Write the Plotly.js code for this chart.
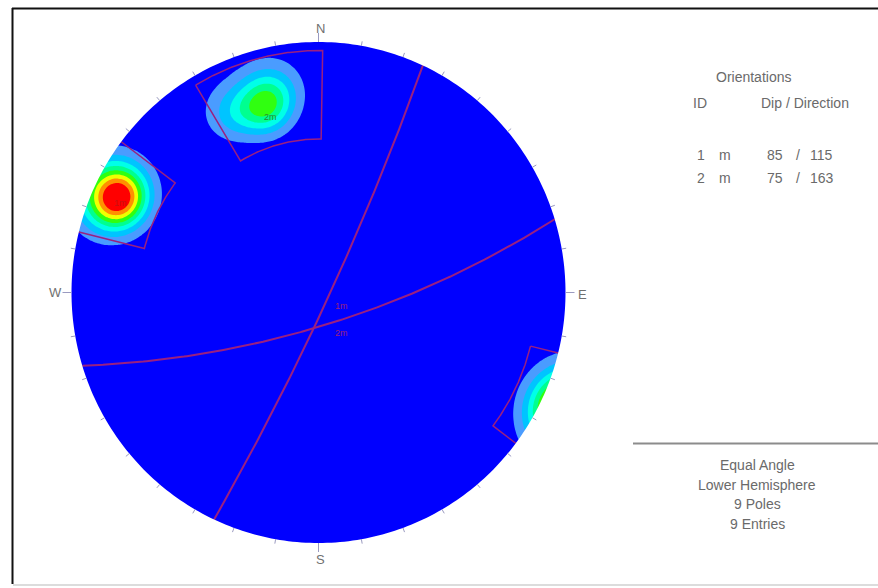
<!DOCTYPE html>
<html>
<head>
<meta charset="utf-8">
<script src="https://cdn.plot.ly/plotly-3.0.1.min.js"></script>
<style>
  html, body { margin: 0; padding: 0; background: #ffffff; }
  #chart { width: 878px; height: 588px; }
</style>
</head>
<body>
<div id="chart"></div>
<script>
// ---- Pole data (trend / plunge in degrees, lower hemisphere) ----
const poleTrend  = [293, 295, 297, 294, 296, 344, 343, 347, 334];
const polePlunge = [5, 6, 7, 7, 5, 14, 16, 11, 13];

// ---- Mean planes ----
const planeIds     = ['1', '2'];
const planeTypes   = ['m', 'm'];
const planeDips    = [85, 75];
const planeDipDirs = [115, 163];

// ---- Set windows (trend range, plunge range; negative plunge wraps to the opposite side) ----
const windowTrendMin  = [284, 329];
const windowTrendMax  = [307, 361];
const windowPlungeMin = [-7, 2];
const windowPlungeMax = [18, 27];

// ---- Text ----
const compassLabels = ['N', 'E', 'S', 'W'];
const legendTitle   = 'Orientations';
const legendHeads   = ['ID', 'Dip / Direction'];
const summaryLines  = ['Equal Angle', 'Lower Hemisphere', '9 Poles', '9 Entries'];

// ---- Density contour levels and fill colours ----
const densityStart = 0.45;
const densityStep  = 0.5;
const densityLevels = 8;
const bandColors = ['#0000ff', '#4a9cff', '#00c4ff', '#00ffe8', '#00ff90',
                    '#30ff10', '#f0ff00', '#ff9000', '#ff0000'];
const fisherK = 105;

// ---- Geometry of the figure ----
const W = 878, H = 588;
const CX = 318.5, CY = 292.5, RX = 247, RY = 250.5;
const D2R = Math.PI / 180;
const planeColor = '#9a2080';

function vecFromTP(t, p) {
  return [Math.cos(p * D2R) * Math.sin(t * D2R),
          Math.cos(p * D2R) * Math.cos(t * D2R),
          Math.sin(p * D2R)];
}
// equal-angle projection of a lower-hemisphere vector (E, N, Down)
function project(v) {
  let [e, n, d] = v;
  if (d < 0) { e = -e; n = -n; d = -d; }
  return [e / (1 + d), n / (1 + d)];
}
function projTP(t, p) { return project(vecFromTP(t, p)); }

// ---- Density grid (Fisher kernel, axial) ----
const poleVecs = poleTrend.map((t, i) => vecFromTP(t, polePlunge[i]));
const gx = [], gy = [];
for (let i = 0; i <= 224; i++) gx.push(-1.12 + i * 0.01);
for (let i = 0; i <= 224; i++) gy.push(-1.12 + i * 0.01);
const gz = gy.map(y => gx.map(x => {
  const r2 = x * x + y * y;
  const e = 2 * x / (1 + r2), n = 2 * y / (1 + r2), d = (1 - r2) / (1 + r2);
  let s = 0;
  for (const pv of poleVecs) {
    const c = Math.abs(e * pv[0] + n * pv[1] + d * pv[2]);
    s += Math.exp(fisherK * (c - 1));
  }
  return s;
}));

const colorscale = bandColors.map((c, i) => [i / densityLevels, c]);

const traces = [];
traces.push({
  type: 'contour', x: gx, y: gy, z: gz,
  autocontour: false,
  contours: { start: densityStart, end: densityStart + densityStep * (densityLevels - 1),
              size: densityStep, coloring: 'fill', showlines: false },
  line: { width: 0, smoothing: 1 },
  colorscale: colorscale, showscale: false, hoverinfo: 'skip'
});

// ---- Great circles of the mean planes ----
planeDips.forEach((dip, k) => {
  const dd = planeDipDirs[k], s = dd - 90;
  const sv = [Math.sin(s * D2R), Math.cos(s * D2R), 0];
  const dv = vecFromTP(dd, dip);
  const xs = [], ys = [];
  for (let a = 0; a <= 180; a += 1) {
    const c = Math.cos(a * D2R), si = Math.sin(a * D2R);
    const v = [c * sv[0] + si * dv[0], c * sv[1] + si * dv[1], c * sv[2] + si * dv[2]];
    const p = project(v);
    xs.push(p[0]); ys.push(p[1]);
  }
  traces.push({ type: 'scatter', mode: 'lines', x: xs, y: ys,
    line: { color: planeColor, width: 2 }, hoverinfo: 'skip' });
});

// ---- Set windows ----
function windowPath(t0, t1, p0, p1) {
  const pts = [];
  const n = 80;
  for (let i = 0; i <= n; i++) pts.push([t0 + (t1 - t0) * i / n, p0]);
  for (let i = 0; i <= n; i++) pts.push([t1, p0 + (p1 - p0) * i / n]);
  for (let i = 0; i <= n; i++) pts.push([t1 - (t1 - t0) * i / n, p1]);
  for (let i = 0; i <= n; i++) pts.push([t0, p1 - (p1 - p0) * i / n]);
  const xs = [], ys = [];
  let prev = null;
  for (const [t, p] of pts) {
    if (prev && ((prev[1] < 0) !== (p < 0))) {
      const f = (0 - prev[1]) / (p - prev[1]);
      const tc = prev[0] + f * (t - prev[0]);
      const a = projTP(tc, prev[1] < 0 ? -1e-9 : 1e-9);
      const b = projTP(tc, p < 0 ? -1e-9 : 1e-9);
      xs.push(a[0], null, b[0]); ys.push(a[1], null, b[1]);
    }
    const q = projTP(t, p);
    xs.push(q[0]); ys.push(q[1]);
    prev = [t, p];
  }
  return [xs, ys];
}
windowTrendMin.forEach((t0, k) => {
  const [xs, ys] = windowPath(t0, windowTrendMax[k], windowPlungeMin[k], windowPlungeMax[k]);
  traces.push({ type: 'scatter', mode: 'lines', x: xs, y: ys, connectgaps: false,
    line: { color: planeColor, width: 1.5 }, hoverinfo: 'skip' });
});

// ---- Shapes: mask outside the primitive, ticks, frame ----
const shapes = [];
let circ = '';
for (let a = 0; a <= 360; a += 1) {
  const x = Math.sin(-a * D2R), y = Math.cos(-a * D2R);
  circ += (a === 0 ? 'M' : 'L') + x.toFixed(5) + ',' + y.toFixed(5);
}
circ += 'Z';
const B = 1.2;
shapes.push({ type: 'path', xref: 'x', yref: 'y', layer: 'above',
  path: `M${-B},${-B}L${-B},${B}L${B},${B}L${B},${-B}Z` + circ,
  fillrule: 'evenodd', fillcolor: '#ffffff', line: { width: 0 } });

for (let az = 0; az < 360; az += 10) {
  const major = az % 90 === 0;
  const L = major ? 9 : 4.5;
  const s = Math.sin(az * D2R), c = Math.cos(az * D2R);
  shapes.push({ type: 'line', xref: 'x', yref: 'y', layer: 'above',
    x0: s, y0: c, x1: s * (1 + L / RX), y1: c * (1 + L / RY),
    line: { color: '#9a9ac0', width: 1 } });
}
const px = v => v / W, py = v => 1 - v / H;
shapes.push({ type: 'line', xref: 'paper', yref: 'paper', layer: 'above',
  x0: px(12), y0: py(8.5), x1: px(878), y1: py(8.5), line: { color: '#111111', width: 2 } });
shapes.push({ type: 'line', xref: 'paper', yref: 'paper', layer: 'above',
  x0: px(12.5), y0: py(8), x1: px(12.5), y1: py(584), line: { color: '#111111', width: 2 } });
shapes.push({ type: 'line', xref: 'paper', yref: 'paper', layer: 'above',
  x0: px(13), y0: py(585), x1: px(878), y1: py(585), line: { color: '#d0d0d0', width: 1.5 } });
shapes.push({ type: 'line', xref: 'paper', yref: 'paper', layer: 'above',
  x0: px(633), y0: py(443.5), x1: px(878), y1: py(443.5), line: { color: '#8c8c8c', width: 2 } });

// ---- Annotations ----
const annotations = [];
const textColor = '#6a6a6a';
const font = (size, color) => ({ family: 'Liberation Sans, Arial, sans-serif', size: size, color: color });
function addPix(text, x, y, size, color, anchor) {
  annotations.push({ text: text, xref: 'paper', yref: 'paper', x: px(x), y: py(y),
    xanchor: anchor || 'center', yanchor: 'middle', showarrow: false, font: font(size, color) });
}
const compassPix = [[320, 28], [582, 294], [320, 559], [55, 293]];
compassLabels.forEach((t, i) => addPix(t, compassPix[i][0], compassPix[i][1], 13, '#707070'));

addPix(legendTitle, 753, 77, 14, textColor);
addPix(legendHeads[0], 700, 103, 14, textColor);
addPix(legendHeads[1], 805, 103, 14, textColor);
planeIds.forEach((id, i) => {
  const y = 155 + i * 23;
  addPix(id, 701, y, 14, textColor);
  addPix(planeTypes[i], 725, y, 14, textColor);
  addPix(String(planeDips[i]), 785, y, 14, textColor, 'right');
  addPix('/', 798, y, 14, textColor);
  addPix(String(planeDipDirs[i]), 808, y, 14, textColor, 'left');
});
summaryLines.forEach((t, i) => addPix(t, 757, 465 + i * 19.5, 14, textColor));

// plane labels near the dip vectors and at the poles
planeIds.forEach((id, i) => {
  const dv = projTP(planeDipDirs[i], planeDips[i]);
  annotations.push({ text: id + planeTypes[i], xref: 'x', yref: 'y', x: dv[0], y: dv[1],
    xshift: 13, yshift: -9, showarrow: false, font: font(9, planeColor) });
  const pv = projTP(planeDipDirs[i] + 180, 90 - planeDips[i]);
  annotations.push({ text: id + planeTypes[i], xref: 'x', yref: 'y', x: pv[0], y: pv[1],
    xshift: 7, yshift: -8, showarrow: false, font: font(9, i === 0 ? '#c81010' : '#2a8a2a') });
});

const layout = {
  width: W, height: H,
  margin: { l: 0, r: 0, t: 0, b: 0, pad: 0 },
  paper_bgcolor: '#ffffff', plot_bgcolor: '#ffffff',
  showlegend: false,
  xaxis: { range: [(0 - CX) / RX, (W - CX) / RX], visible: false, fixedrange: true },
  yaxis: { range: [(CY - H) / RY, CY / RY], visible: false, fixedrange: true },
  shapes: shapes, annotations: annotations
};
Plotly.newPlot('chart', traces, layout, { displayModeBar: false, staticPlot: true });
</script>
</body>
</html>
